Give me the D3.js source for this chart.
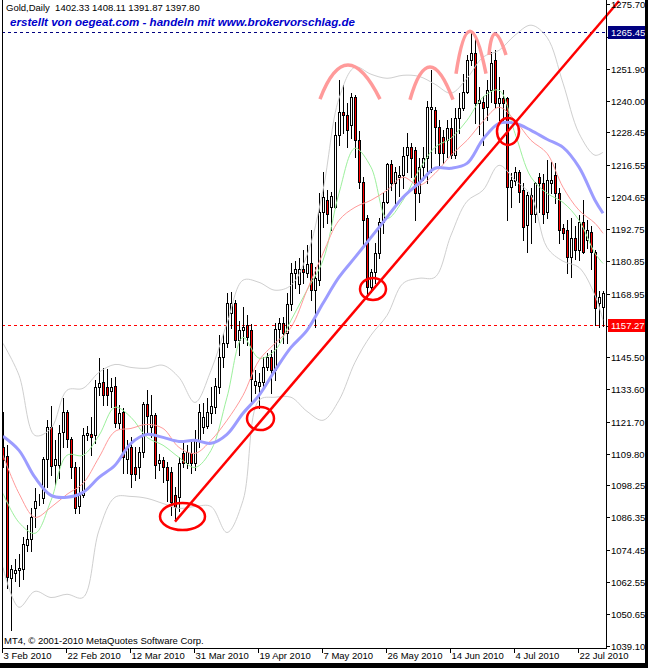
<!DOCTYPE html>
<html><head><meta charset="utf-8">
<script src="https://cdn.jsdelivr.net/npm/d3@7"></script>
<style>
body{margin:0;background:#fff}
svg{display:block}
text{font-family:"Liberation Sans",Arial,sans-serif}
</style>
</head><body>
<svg id="c" width="648" height="668"></svg>
<script>
// ---------- DATA ----------
const opens = [
1112.2,1108.9,1064.0,1066.0,1066.8,1067.5,1076.0,1078.3,1089.7,1093.0,
1093.4,1107.8,1119.6,1105.6,1105.6,1117.8,1125.1,1115.2,1104.8,1090.7,
1094.5,1116.6,1117.0,1116.6,1134.4,1136.2,1134.4,1133.0,1134.7,1121.1,
1125.1,1108.1,1112.2,1104.8,1104.8,1110.4,1128.1,1119.6,1124.0,1106.3,
1107.4,1104.8,1103.0,1094.5,1093.8,1110.0,1106.3,1110.0,1106.3,1114.8,
1119.6,1120.0,1124.8,1127.0,1134.4,1145.4,1150.6,1161.7,1165.4,1152.0,
1155.4,1157.2,1155.4,1135.1,1135.0,1136.2,1141.8,1145.4,1140.7,1155.8,
1158.0,1154.3,1165.0,1176.4,1172.4,1178.2,1176.4,1180.1,1170.2,1173.9,
1199.0,1203.4,1200.8,1200.8,1227.4,1235.9,1234.8,1231.0,1241.4,1225.5,
1210.0,1196.7,1171.3,1176.8,1183.8,1195.3,1202.6,1216.6,1209.6,1212.0,
1212.6,1220.0,1223.0,1221.8,1206.0,1215.5,1218.9,1237.0,1236.6,1230.3,
1226.6,1225.5,1230.0,1220.0,1233.7,1237.3,1243.2,1255.0,1257.6,1239.2,
1239.6,1237.7,1244.0,1255.0,1239.2,1241.0,1241.0,1208.2,1210.4,1213.7,
1207.0,1194.1,1205.2,1198.5,1211.9,1209.6,1198.9,1209.6,1212.6,1206.0,
1193.0,1192.6,1182.4,1189.3,1184.9,1195.3,1188.6,1191.5,1184.2,1165.4,
1164.0];
const highs = [
1125.1,1113.0,1068.7,1071.0,1073.0,1079.0,1083.4,1089.7,1097.1,1095.0,
1108.5,1122.2,1127.3,1114.8,1120.3,1130.3,1125.9,1115.9,1106.7,1104.8,
1119.2,1120.0,1123.3,1137.0,1145.1,1141.4,1141.0,1137.7,1138.0,1127.7,
1126.6,1114.8,1115.9,1112.2,1112.2,1128.8,1133.3,1131.4,1124.8,1109.6,
1108.5,1106.7,1104.8,1097.5,1108.5,1114.8,1113.0,1114.8,1118.5,1128.1,
1128.5,1130.3,1134.4,1137.7,1153.6,1154.3,1169.1,1169.4,1166.5,1159.0,
1163.9,1161.0,1157.6,1140.7,1139.6,1145.4,1147.0,1148.0,1158.0,1160.0,
1160.2,1169.0,1180.1,1181.0,1182.0,1185.0,1186.7,1192.3,1178.6,1206.0,
1213.7,1207.0,1206.3,1232.2,1247.7,1245.8,1239.2,1242.9,1242.1,1228.8,
1211.9,1197.8,1178.0,1187.8,1196.7,1206.0,1217.0,1218.1,1215.5,1216.0,
1222.9,1228.1,1224.4,1223.0,1219.0,1223.0,1240.0,1251.4,1237.7,1233.0,
1229.2,1233.0,1233.7,1237.3,1242.9,1250.0,1256.9,1265.45,1263.2,1245.0,
1242.0,1247.7,1258.0,1258.7,1249.0,1244.0,1241.4,1213.3,1215.5,1214.4,
1209.6,1206.3,1207.8,1210.0,1213.3,1213.0,1218.1,1217.4,1217.0,1207.8,
1194.5,1196.0,1197.0,1194.0,1197.8,1203.4,1196.0,1194.0,1185.0,1170.0,
1170.0];
const lows = [
1105.0,1060.2,1044.7,1063.0,1061.0,1063.8,1074.0,1074.0,1082.7,1091.0,
1091.5,1097.5,1101.9,1098.2,1101.0,1112.2,1112.2,1101.0,1087.9,1087.9,
1093.8,1114.8,1109.3,1114.0,1131.4,1127.7,1127.7,1127.0,1119.6,1119.2,
1102.6,1102.6,1097.5,1100.0,1101.0,1108.5,1117.4,1115.9,1101.0,1104.0,
1099.3,1092.3,1087.1,1085.3,1088.9,1104.8,1104.5,1102.6,1103.7,1112.2,
1117.4,1119.2,1121.1,1124.8,1132.1,1141.8,1149.1,1156.1,1149.1,1146.2,
1150.6,1150.0,1128.8,1132.1,1126.6,1135.0,1140.7,1132.1,1137.0,1151.0,
1150.6,1150.6,1162.8,1171.0,1169.0,1173.0,1175.0,1166.5,1156.5,1172.0,
1193.4,1194.9,1192.3,1200.4,1223.7,1228.1,1223.0,1226.3,1219.2,1208.0,
1186.7,1167.6,1169.5,1172.7,1182.0,1191.2,1202.2,1207.0,1201.5,1205.0,
1208.1,1213.7,1211.9,1196.0,1202.6,1211.0,1209.6,1214.0,1220.7,1215.2,
1217.0,1219.2,1218.9,1218.9,1228.1,1236.6,1242.9,1253.2,1231.8,1228.0,
1223.7,1233.0,1239.6,1237.3,1233.0,1233.0,1196.0,1200.8,1209.0,1202.6,
1188.6,1184.2,1187.8,1195.3,1199.0,1195.0,1197.0,1206.0,1202.2,1187.8,
1189.0,1176.4,1175.0,1181.8,1181.2,1183.8,1185.6,1178.0,1157.3,1156.5,
1157.0];
const closes = [
1107.4,1064.2,1067.5,1067.0,1067.8,1076.4,1078.3,1086.4,1092.3,1093.2,
1107.8,1119.6,1105.2,1107.8,1117.4,1125.1,1115.2,1104.8,1090.0,1094.5,
1116.6,1117.4,1116.0,1134.4,1135.9,1131.4,1131.4,1134.5,1121.1,1124.8,
1108.5,1112.2,1102.2,1102.2,1110.4,1128.1,1123.7,1124.0,1105.6,1107.4,
1104.8,1100.0,1091.9,1090.1,1106.3,1106.3,1110.4,1106.3,1114.8,1125.1,
1123.3,1125.1,1127.3,1134.7,1145.4,1150.6,1165.4,1165.4,1152.0,1155.4,
1156.5,1152.8,1137.3,1136.6,1136.2,1141.8,1145.4,1140.7,1155.8,1158.0,
1154.3,1165.0,1176.4,1177.9,1178.2,1176.8,1180.0,1170.2,1174.6,1199.0,
1204.5,1198.5,1204.9,1227.4,1235.9,1234.8,1229.2,1241.4,1225.5,1210.0,
1196.0,1171.3,1176.8,1183.8,1195.3,1202.6,1216.6,1209.6,1213.7,1212.6,
1219.6,1223.0,1218.9,1206.0,1215.5,1218.9,1237.7,1237.7,1230.3,1220.7,
1220.7,1230.0,1220.0,1233.7,1237.3,1243.2,1255.0,1257.6,1239.2,1240.3,
1237.3,1244.0,1254.0,1239.2,1241.0,1239.2,1208.2,1210.7,1213.7,1206.3,
1193.4,1205.2,1198.5,1209.6,1209.6,1198.5,1210.7,1210.7,1206.0,1192.3,
1191.2,1182.4,1189.3,1184.9,1195.3,1184.2,1192.3,1184.2,1163.5,1167.6,
1169.0];

// indicator samples, one value every 4 bars (bars 0,4,...,148,150)
const sampleBars = d3.range(0, 149, 4).concat([150]);
const maBlue = [1116.3,1111.1,1101.1,1094.5,1093.8,1095.6,1101.1,1105.6,1113.7,1117.0,
1115.9,1114.4,1114.8,1113.7,1117.0,1124.8,1131.4,1140.6,1149.1,1155.4,
1165.4,1175.0,1182.3,1189.7,1197.1,1204.5,1209.7,1215.2,1215.2,1217.0,
1225.9,1231.8,1231.8,1229.2,1225.9,1222.9,1215.6,1203.4,1198.6];
const maRed = [1109.3,1095.2,1086.4,1090.1,1094.9,1098.9,1108.5,1118.1,1119.2,1120.7,
1119.2,1112.2,1110.0,1114.8,1122.2,1131.4,1144.3,1150.6,1156.5,1170.2,
1183.8,1196.0,1200.8,1203.4,1207.1,1211.9,1208.9,1213.3,1220.0,1225.5,
1232.5,1237.7,1232.9,1225.5,1220.7,1208.2,1199.7,1194.9,1191.2];
const maGreen = [1095.2,1084.5,1080.5,1092.6,1109.3,1109.3,1116.6,1127.0,1123.3,1115.9,
1113.0,1108.5,1104.8,1111.1,1130.7,1152.8,1145.1,1148.0,1159.1,1170.2,
1181.2,1206.0,1222.6,1215.6,1196.7,1203.4,1214.5,1222.9,1226.3,1232.9,
1241.4,1244.0,1228.1,1211.9,1206.0,1202.6,1196.0,1183.8,1180.1];
const bandUpper = [1150.6,1138.8,1116.6,1119.2,1133.3,1134.0,1139.9,1142.8,1141.7,1141.4,
1142.5,1138.0,1128.8,1140.6,1158.0,1173.9,1173.1,1170.2,1172.0,1183.1,
1207.1,1241.0,1252.5,1249.9,1248.4,1249.5,1249.1,1246.2,1242.9,1248.4,
1256.2,1258.7,1264.3,1268.0,1263.5,1246.6,1228.1,1220.0,1221.1];
const bandLower = [1067.9,1053.2,1059.1,1056.8,1058.0,1056.8,1081.6,1093.8,1094.1,1093.4,
1091.5,1089.7,1090.4,1090.4,1080.8,1092.6,1129.6,1130.7,1130.7,1125.5,
1122.2,1129.6,1143.6,1153.6,1160.9,1172.7,1174.6,1175.0,1190.5,1203.0,
1207.1,1216.3,1210.8,1205.2,1186.0,1180.9,1178.6,1168.3,1159.1];

const priceTicks = [1275.70,1263.80,1251.90,1240.00,1228.45,1216.55,1204.65,1192.75,1180.85,1168.95,
1157.05,1145.50,1133.60,1121.70,1109.80,1098.25,1086.35,1074.45,1062.55,1050.65,1039.10];
const dateLabels = ["3 Feb 2010","22 Feb 2010","12 Mar 2010","31 Mar 2010","19 Apr 2010",
"7 May 2010","26 May 2010","14 Jun 2010","4 Jul 2010","22 Jul 2010"];
const dateBars = [0,16,32,48,64,80,96,112,128,144];

const highLevel = 1265.45, lastPrice = 1157.27;
const titleText = "Gold,Daily  1402.33 1408.11 1391.87 1397.80";
const creditText = "erstellt von oegeat.com - handeln mit www.brokervorschlag.de";
const copyText = "MT4, \u00A9 2001-2010 MetaQuotes Software Corp.";

// annotations (bar index / price)
const trendLine = [{bar:43, p:1084.8},{bar:154, p:1276.9}];
const ellipses = [
 {b0:39.25,b1:50.5,p0:1081.7,p1:1091.7},
 {b0:61,b1:67.75,p0:1118.6,p1:1127.1},
 {b0:89.25,b1:95.75,p0:1166.6,p1:1174.7},
 {b0:123.5,b1:129,p0:1223.8,p1:1233.7}];
const arcs = [
 {b0:79.25,bp:86.25,b1:94.25,foot:1240.7,peak:1253.3},
 {b0:101.75,bp:106.75,b1:112.5,foot:1240.5,peak:1252.6},
 {b0:113.25,bp:116.75,b1:120.75,foot:1250.1,peak:1265.8},
 {b0:121.5,bp:123,b1:125.75,foot:1257.0,peak:1264.7}];

// ---------- DRAW ----------
const svg = d3.select("#c");
const W = 648, H = 668;
const plotL = 2, plotR = 606, plotB = 648;
const x = d3.scaleLinear().domain([0,150]).range([3,603]);
const y = d3.scaleLinear().domain([1039.10,1275.70]).range([645.5,4.3]);

svg.append("rect").attr("width",W).attr("height",H).attr("fill","#fff");

const plot = svg.append("g");
const clip = svg.append("clipPath").attr("id","pc");
clip.append("rect").attr("x",plotL).attr("y",0).attr("width",plotR-plotL).attr("height",plotB);

// dashed level lines
plot.append("line").attr("x1",plotL).attr("x2",plotR).attr("y1",Math.round(y(highLevel))+0.5).attr("y2",Math.round(y(highLevel))+0.5)
  .attr("stroke","#000080").attr("stroke-dasharray","3,3").attr("shape-rendering","crispEdges");
plot.append("line").attr("x1",plotL).attr("x2",plotR).attr("y1",Math.round(y(lastPrice))+0.5).attr("y2",Math.round(y(lastPrice))+0.5)
  .attr("stroke","#ff0000").attr("stroke-dasharray","3,3").attr("shape-rendering","crispEdges");

// candles
const bars = d3.range(opens.length).map(i=>({i,o:opens[i],h:highs[i],l:lows[i],c:closes[i]}));
const cg = plot.append("g").attr("shape-rendering","crispEdges");
cg.selectAll("line.w").data(bars).join("line")
  .attr("x1",d=>x(d.i)+0.5).attr("x2",d=>x(d.i)+0.5)
  .attr("y1",d=>Math.round(y(d.h))).attr("y2",d=>Math.round(y(d.l))+1)
  .attr("stroke","#000");
cg.selectAll("rect.b").data(bars).join("rect")
  .attr("x",d=>x(d.i)-0.5).attr("width",2)
  .attr("y",d=>Math.round(y(Math.max(d.o,d.c)))+0.5)
  .attr("height",d=>Math.max(0,Math.round(y(Math.min(d.o,d.c)))-Math.round(y(Math.max(d.o,d.c)))))
  .attr("fill",d=>d.c>=d.o?"#fff":"#ff0000").attr("stroke","#000");

// indicator lines
const ind = plot.append("g").attr("clip-path","url(#pc)").attr("fill","none");
const mk = arr => sampleBars.map((b,k)=>({b,v:arr[k]}));
const ln = d3.line().x(d=>x(d.b)).y(d=>y(d.v)).curve(d3.curveCatmullRom);
ind.append("path").attr("d",ln(mk(bandUpper))).attr("stroke","#cfcfcf").attr("stroke-width",1);
ind.append("path").attr("d",ln(mk(bandLower))).attr("stroke","#cfcfcf").attr("stroke-width",1);
ind.append("path").attr("d",ln(mk(maGreen))).attr("stroke","#9cf09c").attr("stroke-width",1);
ind.append("path").attr("d",ln(mk(maRed))).attr("stroke","#ff9a9a").attr("stroke-width",1);
ind.append("path").attr("d",ln(mk(maBlue))).attr("stroke","#9c9cff").attr("stroke-width",3);

// annotations
const ann = svg.append("g").attr("fill","none");
ann.append("path").attr("d",d3.line().x(d=>x(d.bar)).y(d=>y(d.p))(trendLine))
  .attr("stroke","#ff0000").attr("stroke-width",2.5);
ann.selectAll("ellipse").data(ellipses).join("ellipse")
  .attr("cx",d=>(x(d.b0)+x(d.b1))/2).attr("cy",d=>(y(d.p0)+y(d.p1))/2)
  .attr("rx",d=>(x(d.b1)-x(d.b0))/2).attr("ry",d=>(y(d.p0)-y(d.p1))/2)
  .attr("stroke","#ff0000").attr("stroke-width",2.5);
ann.selectAll("path.arc").data(arcs).join("path").attr("class","arc")
  .attr("d",d=>{
    const xl=x(d.b0), xr=x(d.b1), yf=y(d.foot), yp=y(d.peak), xp=x(d.bp);
    const cx = 2*xp-(xl+xr)/2, cy = 2*yp-yf;
    return `M${xl},${yf} Q${cx},${cy} ${xr},${yf}`;
  })
  .attr("stroke","#ff9a9a").attr("stroke-width",3.5).attr("stroke-linecap","butt");

// frame / axes
const fr = svg.append("g").attr("shape-rendering","crispEdges").attr("stroke","#000");
fr.append("line").attr("x1",plotL+0.5).attr("x2",plotL+0.5).attr("y1",0).attr("y2",plotB+1);
fr.append("line").attr("x1",plotR+0.5).attr("x2",plotR+0.5).attr("y1",0).attr("y2",plotB+1);
fr.append("line").attr("x1",plotL).attr("x2",plotR+1).attr("y1",plotB+0.5).attr("y2",plotB+0.5);

// price axis
const pa = svg.append("g");
const boxed = [highLevel,lastPrice];
priceTicks.forEach(p=>{
  const yy = Math.round(y(p))+0.5;
  pa.append("line").attr("x1",plotR+1).attr("x2",plotR+4).attr("y1",yy).attr("y2",yy)
    .attr("stroke","#000").attr("shape-rendering","crispEdges");
  // labels hidden under the marker boxes are not drawn
  if (boxed.some(b=>Math.abs(y(b)-y(p))<8)) return;
  pa.append("text").attr("x",611).attr("y",yy).attr("dy","0.35em")
    .attr("font-size",9.5).attr("fill","#000").text(d3.format(".2f")(p));
});
function priceBox(p,bg){
  const yy = Math.round(y(p))+0.5;
  pa.append("rect").attr("x",608).attr("y",yy-6.5).attr("width",38).attr("height",13).attr("fill",bg);
  pa.append("text").attr("x",611).attr("y",yy).attr("dy","0.35em")
    .attr("font-size",9.5).attr("fill","#fff").text(d3.format(".2f")(p));
}
priceBox(highLevel,"#000080");
priceBox(lastPrice,"#ff0000");

// date axis
const da = svg.append("g");
dateBars.forEach((b,k)=>{
  const xx = Math.round(x(b))-0.5;
  da.append("line").attr("x1",xx).attr("x2",xx).attr("y1",plotB).attr("y2",plotB+5)
    .attr("stroke","#000").attr("shape-rendering","crispEdges");
  da.append("text").attr("x",xx+1).attr("y",plotB+11).attr("font-size",9.5).attr("fill","#000").text(dateLabels[k]);
});

// texts
svg.append("text").attr("x",6).attr("y",11).attr("font-size",9.5).attr("fill","#000")
  .attr("xml:space","preserve").style("white-space","pre").text(titleText);
svg.append("text").attr("x",10).attr("y",26).attr("font-size",11).attr("font-weight","bold")
  .attr("font-style","italic").attr("fill","#0000cc").attr("textLength",345).attr("lengthAdjust","spacingAndGlyphs")
  .text(creditText);
svg.append("text").attr("x",4).attr("y",644).attr("font-size",9.5).attr("fill","#000").text(copyText);

// outer black frame strips
svg.append("rect").attr("x",645).attr("y",0).attr("width",3).attr("height",H).attr("fill","#000");
svg.append("rect").attr("x",0).attr("y",663).attr("width",W).attr("height",5).attr("fill","#000");
</script>
</body></html>
